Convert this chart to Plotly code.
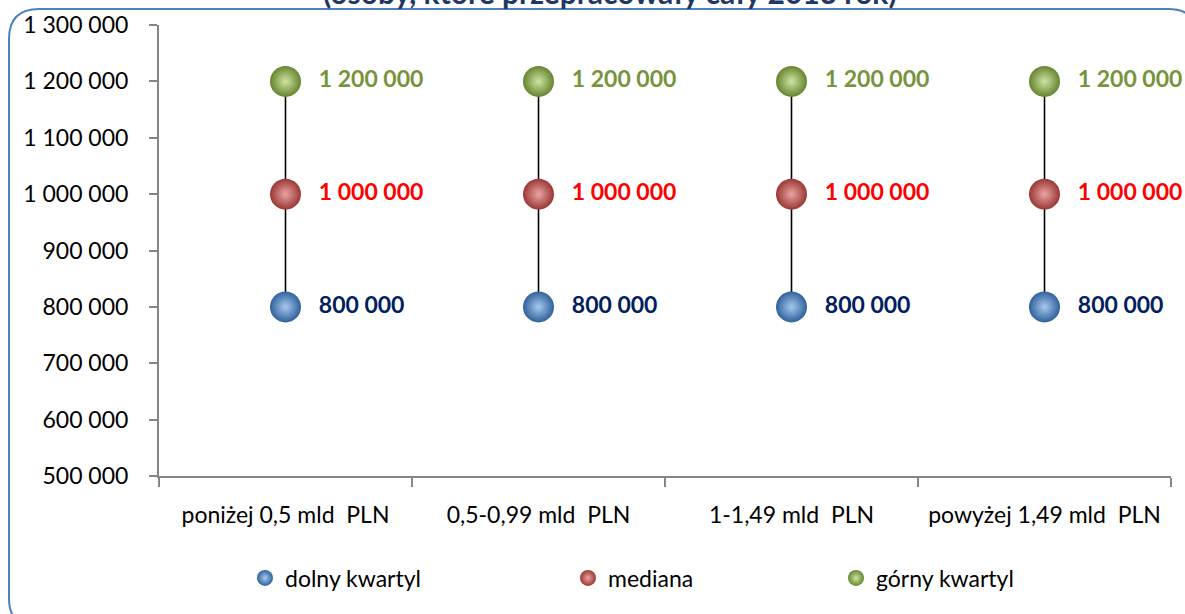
import plotly.graph_objects as go

categories = ["poniżej 0,5 mld\u00a0 PLN", "0,5-0,99 mld\u00a0 PLN", "1-1,49 mld\u00a0 PLN", "powyżej 1,49 mld\u00a0 PLN"]
dolny_kwartyl = [800000, 800000, 800000, 800000]
mediana = [1000000, 1000000, 1000000, 1000000]
gorny_kwartyl = [1200000, 1200000, 1200000, 1200000]
series_names = ["dolny kwartyl", "mediana", "górny kwartyl"]
title_text = "(osoby, które przepracowały cały 2013 rok)"

W, H = 1185, 614
L, R, T, B = 159, 14, 25, 138
PW, PH = W - L - R, H - T - B


def px(x):
    return (x - L) / PW


def py(y):
    return (H - B - y) / PH


FONT = "Lato"
LABEL_PAD = "\u2002\u200a"
fig = go.Figure()

err_plus = [u - m for u, m in zip(gorny_kwartyl, mediana)]
err_minus = [m - d for m, d in zip(mediana, dolny_kwartyl)]

fig.add_trace(go.Scatter(
    x=categories, y=mediana, name=series_names[1], mode="markers+text",
    marker=dict(size=31, color="#9A3734", gradient=dict(type="radial", color="#E9A5A2"), line=dict(width=0)),
    texttemplate=LABEL_PAD + "%{y:,d}", textposition="middle right", cliponaxis=False,
    textfont=dict(family=FONT, size=23, color="#FF0000", weight="bold"),
    error_y=dict(type="data", symmetric=False, array=err_plus, arrayminus=err_minus,
                 width=0, color="black", thickness=1.6),
    legend="legend2",
))
fig.add_trace(go.Scatter(
    x=categories, y=dolny_kwartyl, name=series_names[0], mode="markers+text",
    marker=dict(size=31, color="#2F619B", gradient=dict(type="radial", color="#A8C8EF"), line=dict(width=0)),
    texttemplate=LABEL_PAD + "%{y:,d}", textposition="middle right", cliponaxis=False,
    textfont=dict(family=FONT, size=23, color="#002060", weight="bold"),
    legend="legend",
))
fig.add_trace(go.Scatter(
    x=categories, y=gorny_kwartyl, name=series_names[2], mode="markers+text",
    marker=dict(size=31, color="#66842E", gradient=dict(type="radial", color="#CFE4A4"), line=dict(width=0)),
    texttemplate=LABEL_PAD + "%{y:,d}", textposition="middle right", cliponaxis=False,
    textfont=dict(family=FONT, size=23, color="#77933C", weight="bold"),
    legend="legend3",
))

leg_common = dict(orientation="h", yanchor="middle", xanchor="left", y=py(578),
                  font=dict(family=FONT, size=23, color="black"),
                  bgcolor="rgba(0,0,0,0)", itemwidth=30, tracegroupgap=0)

# rounded border (pixel -> paper)
bx0, by0, bx1, by1, r = 9, 9, 1198, 628, 30
rx, ry = r / PW, r / PH
x0, x1 = px(bx0), px(bx1)
y0, y1 = py(by0), py(by1)
path = (f"M {x0} {y0 - ry} Q {x0} {y0} {x0 + rx} {y0} "
        f"L {x1 - rx} {y0} Q {x1} {y0} {x1} {y0 - ry} "
        f"L {x1} {y1 + ry} Q {x1} {y1} {x1 - rx} {y1} "
        f"L {x0 + rx} {y1} Q {x0} {y1} {x0} {y1 + ry} Z")

fig.update_layout(
    width=W, height=H,
    margin=dict(l=L, r=R, t=T, b=B, autoexpand=False),
    paper_bgcolor="white", plot_bgcolor="white",
    separators=", ",
    font=dict(family=FONT, size=22, color="black"),
    showlegend=True,
    legend=dict(**leg_common, x=px(245)),
    legend2=dict(**leg_common, x=px(568)),
    legend3=dict(**leg_common, x=px(836)),
    shapes=[dict(type="path", xref="paper", yref="paper", path=path,
                 line=dict(color="#4F81BD", width=2), fillcolor="rgba(0,0,0,0)", layer="below")],
    annotations=[dict(text=title_text, xref="paper", yref="paper", x=px(610), y=py(-8),
                      xanchor="center", yanchor="middle", showarrow=False,
                      font=dict(family=FONT, size=30, color="#1F3864", weight="bold"))],
    xaxis=dict(type="category", showgrid=False, showline=True, linecolor="#868686", linewidth=2,
               ticks="outside", tickson="boundaries", ticklen=9, tickcolor="#868686", tickwidth=2,
               tickfont=dict(family=FONT, size=23, color="black"), ticklabelstandoff=17,
               range=[-0.5, 3.5]),
    yaxis=dict(range=[500000, 1300000], dtick=100000, tickformat=",d", showgrid=False,
               showline=True, linecolor="#868686", linewidth=2, ticks="outside", ticklen=8,
               tickcolor="#868686", tickwidth=2, zeroline=False,
               tickfont=dict(family=FONT, size=23, color="black"), ticklabelstandoff=16),
)

fig.write_html("out.html", config={"displayModeBar": False},
               post_script="document.body.style.margin='0';document.body.style.overflow='hidden';")
